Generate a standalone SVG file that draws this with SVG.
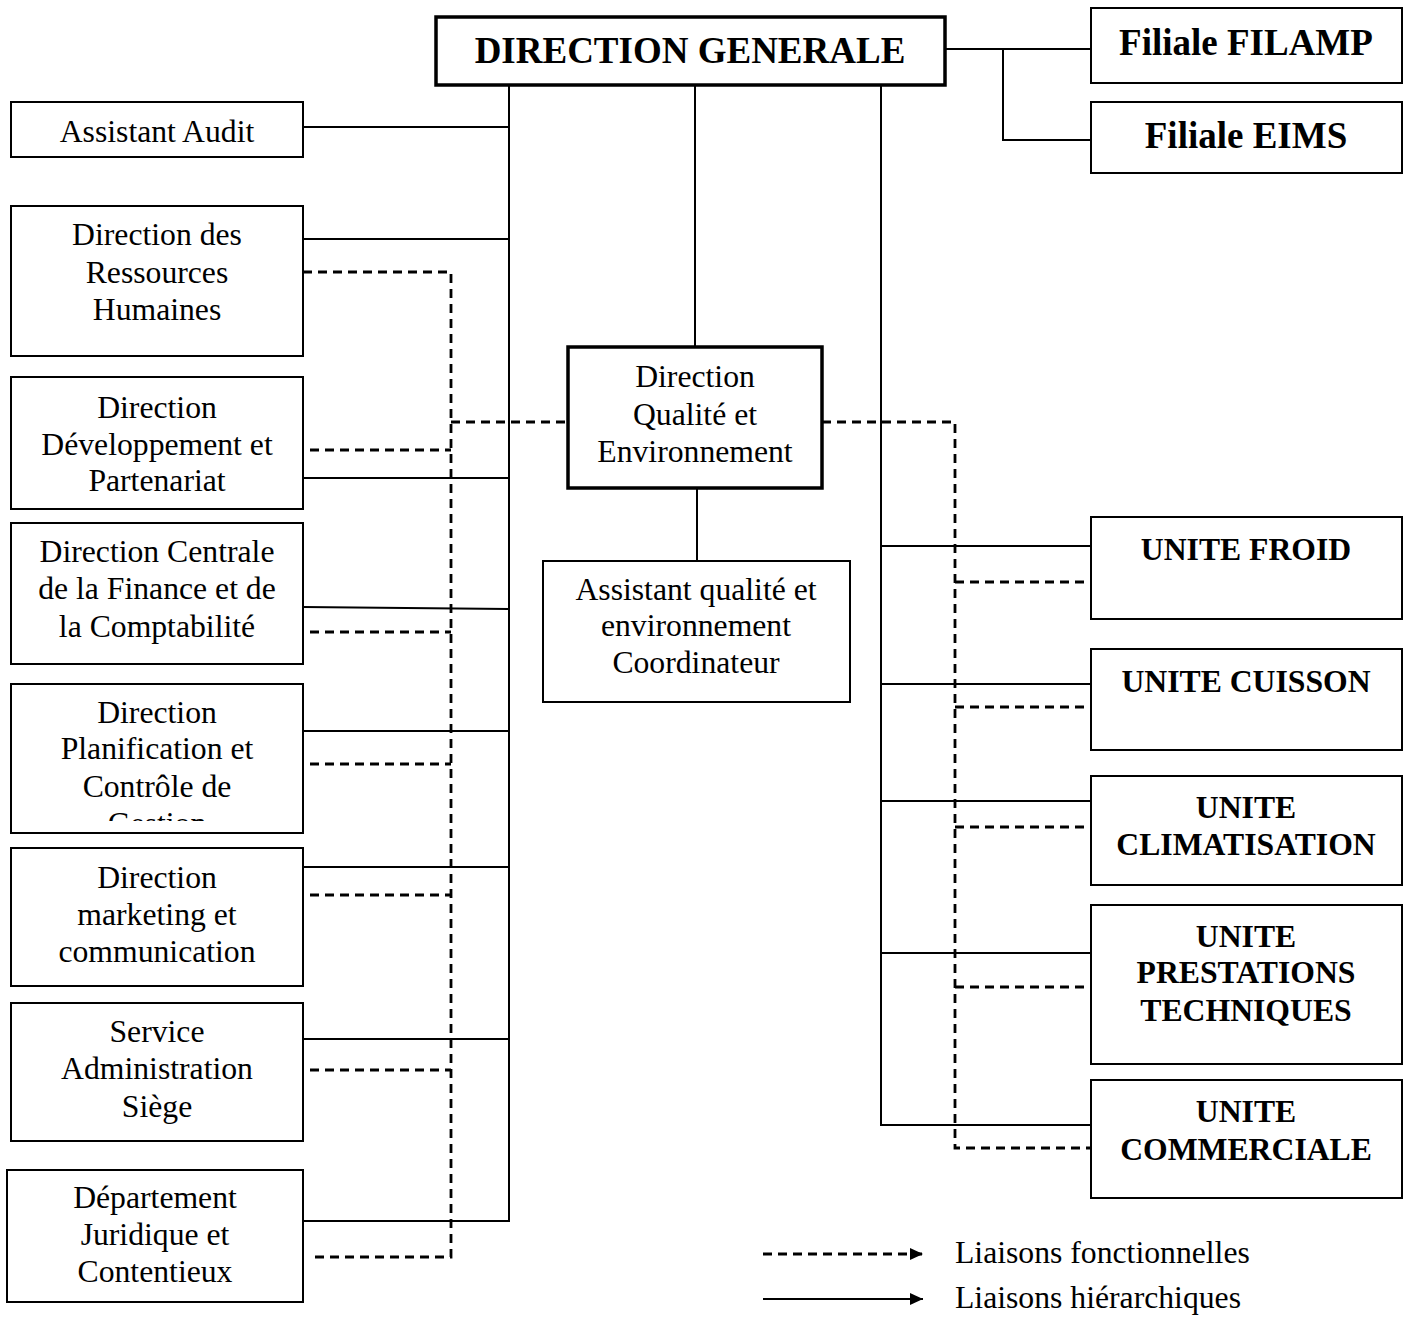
<svg xmlns="http://www.w3.org/2000/svg" width="1409" height="1326" viewBox="0 0 1409 1326">
  <style>
    .box { fill: #fff; stroke: #000; stroke-width: 2; }
    .boxb { fill: #fff; stroke: #000; stroke-width: 3.5; }
    .t { font-family: "Liberation Serif", "Times New Roman", serif; font-size: 31.7px; text-anchor: middle; fill: #000; }
    .tb { font-family: "Liberation Serif", "Times New Roman", serif; font-size: 31.7px; font-weight: bold; text-anchor: middle; fill: #000; }
    .tbig { font-family: "Liberation Serif", "Times New Roman", serif; font-size: 37px; font-weight: bold; text-anchor: middle; fill: #000; }
    .tl { font-family: "Liberation Serif", "Times New Roman", serif; font-size: 31.7px; fill: #000; }
    .solid { fill: none; stroke: #000; stroke-width: 2; }
    .dash { fill: none; stroke: #000; stroke-width: 2.8; stroke-dasharray: 9 6; }
  </style>
  <defs>
    <marker id="arrow" viewBox="0 0 13 12" refX="13" refY="6" markerWidth="13" markerHeight="12" markerUnits="userSpaceOnUse" orient="auto">
      <path d="M0,0 L13,6 L0,12 Z" fill="#000"/>
    </marker>
    <clipPath id="clipPlanif">
      <rect x="11" y="684" width="292" height="137"/>
    </clipPath>
  </defs>

  <rect width="1409" height="1326" fill="#fff"/>

  <!-- connectors -->
  <g id="connectors">
    <!-- hierarchical links -->
    <path class="solid" d="M509,85 V1221 H303"/>
    <path class="solid" d="M303,127 H509 M303,239 H509 M303,478 H509 M303,607 L509,609 M303,731 H509 M303,867 H509 M303,1039 H509"/>
    <path class="solid" d="M695,85 V347 M697,488 V561"/>
    <path class="solid" d="M881,85 V1125 H1091 M881,546 H1091 M881,684 H1091 M881,801 H1091 M881,953 H1091"/>
    <path class="solid" d="M945,49 H1091 M1003,49 V140 H1091"/>
    <!-- functional links -->
    <path class="dash" d="M303,272 H451 V1257 H310"/>
    <path class="dash" d="M451,422 H568"/>
    <path class="dash" d="M310,450 H451 M310,632 H451 M310,764 H451 M310,895 H451 M310,1070 H451"/>
    <path class="dash" d="M822,422 H955 V1148 H1091"/>
    <path class="dash" d="M955,582 H1091 M955,707 H1091 M955,827 H1091 M955,987 H1091"/>
  </g>

  <!-- top management -->
  <g id="direction-generale">
    <rect class="boxb" x="436" y="17" width="509" height="68"/>
    <text class="tbig" x="690" y="63">DIRECTION GENERALE</text>
  </g>
  <g id="filiale-filamp">
    <rect class="box" x="1091" y="8" width="311" height="75"/>
    <text class="tbig" x="1246" y="55">Filiale FILAMP</text>
  </g>
  <g id="filiale-eims">
    <rect class="box" x="1091" y="102" width="311" height="71"/>
    <text class="tbig" x="1246" y="148">Filiale EIMS</text>
  </g>

  <!-- staff departments -->
  <g id="assistant-audit">
    <rect class="box" x="11" y="102" width="292" height="55"/>
    <text class="t" x="157" y="142">Assistant Audit</text>
  </g>
  <g id="drh">
    <rect class="box" x="11" y="206" width="292" height="150"/>
    <text class="t" x="157" y="245">Direction des</text>
    <text class="t" x="157" y="283">Ressources</text>
    <text class="t" x="157" y="320">Humaines</text>
  </g>
  <g id="developpement">
    <rect class="box" x="11" y="377" width="292" height="132"/>
    <text class="t" x="157" y="418">Direction</text>
    <text class="t" x="157" y="455">Développement et</text>
    <text class="t" x="157" y="491">Partenariat</text>
  </g>
  <g id="finance">
    <rect class="box" x="11" y="523" width="292" height="141"/>
    <text class="t" x="157" y="562">Direction Centrale</text>
    <text class="t" x="157" y="599">de la Finance et de</text>
    <text class="t" x="157" y="637">la Comptabilité</text>
  </g>
  <g id="planification">
    <rect class="box" x="11" y="684" width="292" height="149"/>
    <g clip-path="url(#clipPlanif)">
      <text class="t" x="157" y="723">Direction</text>
      <text class="t" x="157" y="759">Planification et</text>
      <text class="t" x="157" y="797">Contrôle de</text>
      <text class="t" x="157" y="834">Gestion</text>
    </g>
  </g>
  <g id="marketing">
    <rect class="box" x="11" y="848" width="292" height="138"/>
    <text class="t" x="157" y="888">Direction</text>
    <text class="t" x="157" y="925">marketing et</text>
    <text class="t" x="157" y="962">communication</text>
  </g>
  <g id="administration">
    <rect class="box" x="11" y="1003" width="292" height="138"/>
    <text class="t" x="157" y="1042">Service</text>
    <text class="t" x="157" y="1079">Administration</text>
    <text class="t" x="157" y="1117">Siège</text>
  </g>
  <g id="juridique">
    <rect class="box" x="7" y="1170" width="296" height="132"/>
    <text class="t" x="155" y="1208">Département</text>
    <text class="t" x="155" y="1245">Juridique et</text>
    <text class="t" x="155" y="1282">Contentieux</text>
  </g>

  <!-- quality -->
  <g id="qualite">
    <rect class="boxb" x="568" y="347" width="254" height="141"/>
    <text class="t" x="695" y="387">Direction</text>
    <text class="t" x="695" y="425">Qualité et</text>
    <text class="t" x="695" y="462">Environnement</text>
  </g>
  <g id="assistant-qualite">
    <rect class="box" x="543" y="561" width="307" height="141"/>
    <text class="t" x="696" y="600">Assistant qualité et</text>
    <text class="t" x="696" y="636">environnement</text>
    <text class="t" x="696" y="673">Coordinateur</text>
  </g>

  <!-- operating units -->
  <g id="unite-froid">
    <rect class="box" x="1091" y="517" width="311" height="102"/>
    <text class="tb" x="1246" y="560">UNITE FROID</text>
  </g>
  <g id="unite-cuisson">
    <rect class="box" x="1091" y="649" width="311" height="101"/>
    <text class="tb" x="1246" y="692">UNITE CUISSON</text>
  </g>
  <g id="unite-climatisation">
    <rect class="box" x="1091" y="776" width="311" height="109"/>
    <text class="tb" x="1246" y="818">UNITE</text>
    <text class="tb" x="1246" y="855">CLIMATISATION</text>
  </g>
  <g id="unite-prestations">
    <rect class="box" x="1091" y="905" width="311" height="159"/>
    <text class="tb" x="1246" y="947">UNITE</text>
    <text class="tb" x="1246" y="983">PRESTATIONS</text>
    <text class="tb" x="1246" y="1021">TECHNIQUES</text>
  </g>
  <g id="unite-commerciale">
    <rect class="box" x="1091" y="1080" width="311" height="118"/>
    <text class="tb" x="1246" y="1122">UNITE</text>
    <text class="tb" x="1246" y="1160">COMMERCIALE</text>
  </g>

  <!-- legend -->
  <g id="legend">
    <line class="dash" x1="763" y1="1254" x2="923" y2="1254" marker-end="url(#arrow)"/>
    <line class="solid" x1="763" y1="1299" x2="923" y2="1299" marker-end="url(#arrow)"/>
    <text class="tl" x="955" y="1263">Liaisons fonctionnelles</text>
    <text class="tl" x="955" y="1308">Liaisons hiérarchiques</text>
  </g>
</svg>
